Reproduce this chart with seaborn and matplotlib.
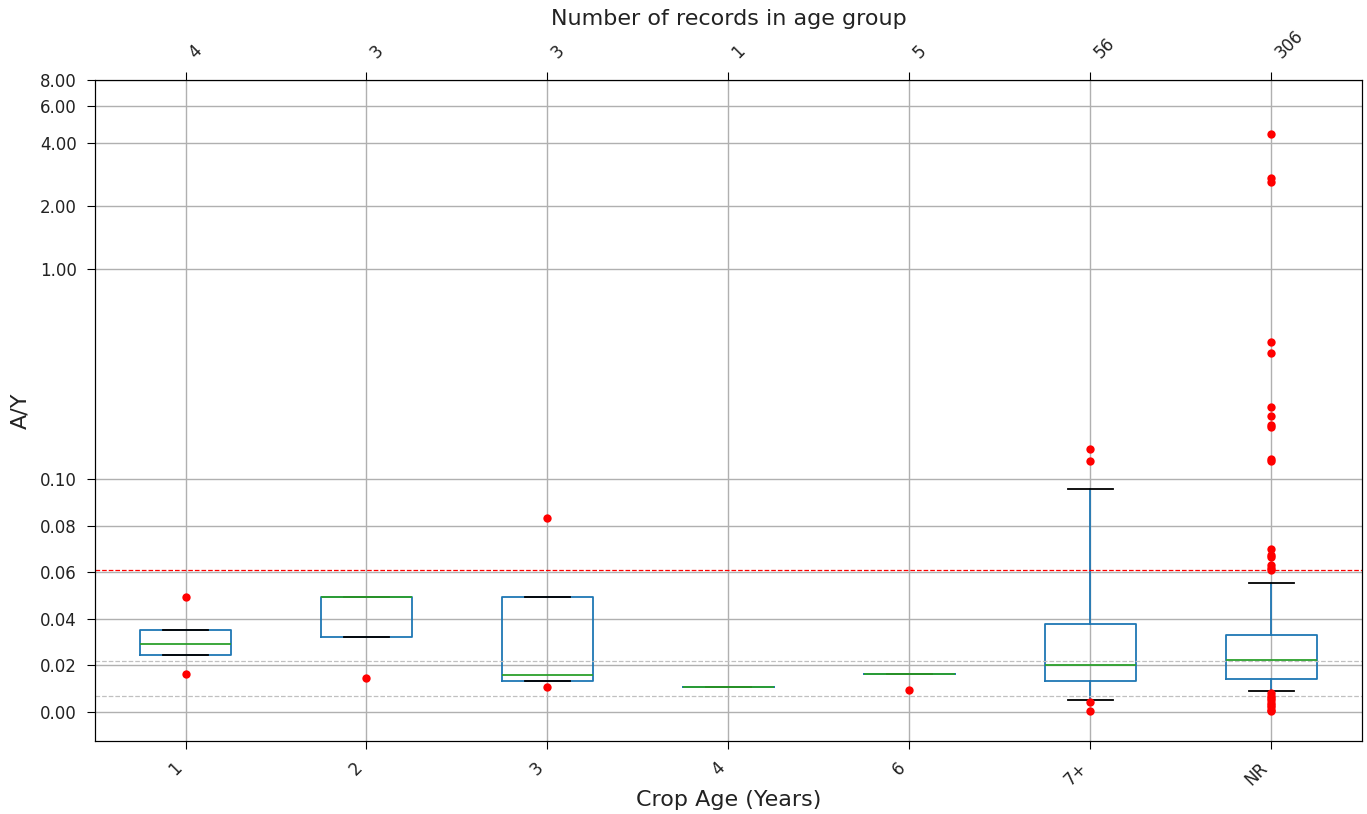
import matplotlib
matplotlib.use('Agg')
from matplotlib import pyplot as plt
from matplotlib.ticker import FormatStrFormatter, NullLocator
import pandas as pd
import seaborn as sns

# Crop age groups and how many records each one has
age_groups = ['1', '2', '3', '4', '6', '7+', 'NR']
record_counts = [4, 3, 3, 1, 5, 56, 306]

# Box summary (A/Y)
q1_vals = [0.0246, 0.0321, 0.0132, 0.0107, 0.0164, 0.0133, 0.0140]
median_vals = [0.0290, 0.0492, 0.0159, 0.0107, 0.0164, 0.0202, 0.0222]
q3_vals = [0.0353, 0.0492, 0.0492, 0.0107, 0.0164, 0.0379, 0.0328]
whisker_low = [0.0246, 0.0321, 0.0134, 0.0107, 0.0164, 0.0052, 0.0089]
whisker_high = [0.0353, 0.0492, 0.0492, 0.0107, 0.0164, 0.0958, 0.0554]

# Outliers per group
outliers_1 = [0.0492, 0.0164]
outliers_2 = [0.0146]
outliers_3 = [0.0833, 0.0107]
outliers_4 = []
outliers_6 = [0.0096]
outliers_7 = [0.139, 0.122, 0.0044, 0.0003]
outliers_nr = [4.4, 2.72, 2.62, 0.45, 0.40, 0.22, 0.20, 0.18, 0.176, 0.125, 0.122,
               0.0698, 0.0672, 0.0667, 0.0631, 0.0619, 0.0609,
               0.0080, 0.0070, 0.0060, 0.0050, 0.0040, 0.0030, 0.0020, 0.0010, 0.0002]

# Reference lines
red_line = 0.061
grey_lines = [0.022, 0.0069]

all_outliers = [outliers_1, outliers_2, outliers_3, outliers_4, outliers_6, outliers_7, outliers_nr]

# Long form table of the outliers for seaborn
flier_df = pd.DataFrame({
    'age': [g for g, vals in zip(age_groups, all_outliers) for _ in vals],
    'ay': [v for vals in all_outliers for v in vals],
})

# Stats for matplotlib bxp
stats = []
for i, g in enumerate(age_groups):
    stats.append({'label': g, 'q1': q1_vals[i], 'med': median_vals[i], 'q3': q3_vals[i],
                  'whislo': whisker_low[i], 'whishi': whisker_high[i], 'fliers': []})

text_col = '#222222'

fig = plt.figure(figsize=(13.67, 8.14), dpi=100)
ax = fig.add_axes([0.0695, 0.0897, 0.9268, 0.812])

ax.set_yscale('symlog', linthresh=0.1)

ax.bxp(stats, positions=range(len(age_groups)), widths=0.5, showfliers=False,
       boxprops=dict(color='#1f77b4', linewidth=1.3),
       whiskerprops=dict(color='#1f77b4', linewidth=1.3),
       capprops=dict(color='black', linewidth=1.3),
       medianprops=dict(color='#2ca02c', linewidth=1.3))

sns.stripplot(data=flier_df, x='age', y='ay', order=age_groups, jitter=False,
              color='red', size=6, linewidth=0, ax=ax, zorder=5)

ax.axhline(red_line, color='red', linestyle='--', linewidth=0.9)
for val in grey_lines:
    ax.axhline(val, color='silver', linestyle='--', linewidth=0.9)

ax.set_xlim(-0.5, len(age_groups) - 0.5)
ax.set_ylim(-0.0125, 8.0)
ax.set_yticks([0, 0.02, 0.04, 0.06, 0.08, 0.1, 1, 2, 4, 6, 8])
ax.yaxis.set_major_formatter(FormatStrFormatter('%.2f'))
ax.yaxis.set_minor_locator(NullLocator())
ax.set_xticks(range(len(age_groups)))
ax.set_xticklabels(age_groups, rotation=45, ha='right')
ax.tick_params(labelsize=12, length=6, pad=7, labelcolor=text_col)
ax.grid(True, color='#b0b0b0', linewidth=1)
ax.set_axisbelow(True)
ax.set_xlabel('Crop Age (Years)', fontsize=16, color=text_col, labelpad=1)
ax.set_ylabel('A/Y', fontsize=16, color=text_col, labelpad=7)

# Top axis with record counts
ax2 = ax.twiny()
ax2.set_xlim(ax.get_xlim())
ax2.set_xticks(range(len(age_groups)))
ax2.set_xticklabels([str(c) for c in record_counts], rotation=45, ha='left')
ax2.tick_params(labelsize=12, length=6, pad=7, labelcolor=text_col)
ax2.set_xlabel('Number of records in age group', fontsize=16, color=text_col, labelpad=1)

fig.savefig('out.png', dpi=100)
